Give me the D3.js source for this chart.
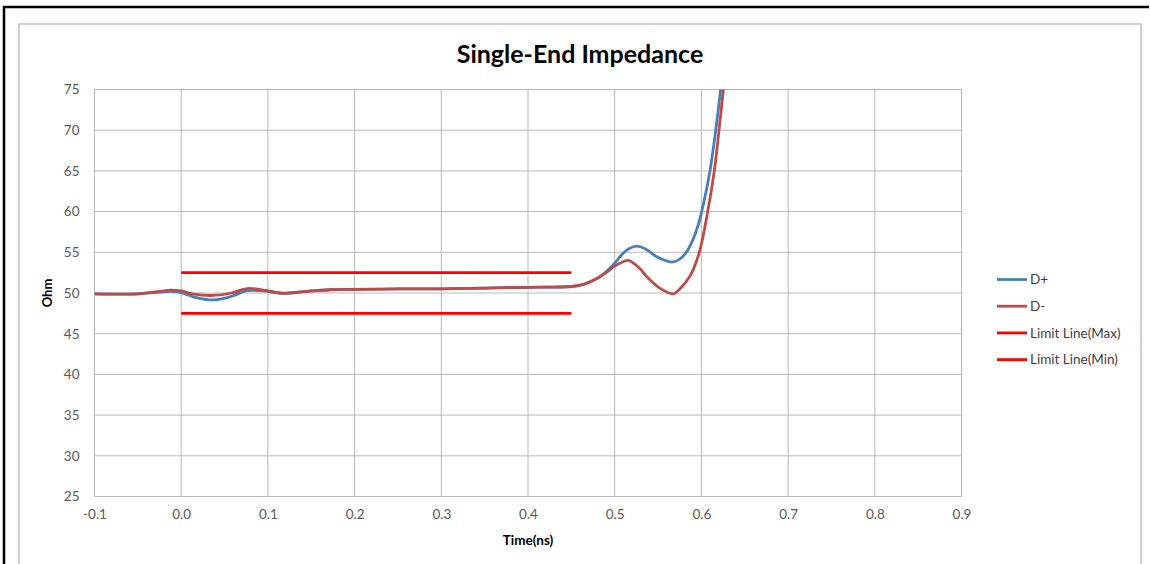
<!DOCTYPE html>
<html>
<head>
<meta charset="utf-8">
<script src="https://cdn.jsdelivr.net/npm/d3@7"></script>
<style>
  body { margin: 0; background: #fff; }
  text { font-family: Lato, "Open Sans", sans-serif; }
</style>
</head>
<body>
<svg id="chart" width="1150" height="564"></svg>
<script>
// time axis (ns) and impedance (Ohm)
const timeDp = [-0.1, -0.05, -0.025, -0.012, 0.0, 0.015, 0.037, 0.058, 0.076, 0.095, 0.118, 0.145, 0.172, 0.2, 0.25, 0.3, 0.35, 0.4, 0.45, 0.465, 0.48, 0.49, 0.5, 0.508, 0.5165, 0.5254, 0.535, 0.541, 0.5485, 0.5657, 0.574, 0.582, 0.59, 0.597, 0.6035, 0.6099, 0.6165, 0.6222, 0.63];
const dPlus  = [49.9, 49.9, 50.1, 50.2, 50.05, 49.5, 49.15, 49.6, 50.3, 50.25, 49.96, 50.2, 50.4, 50.45, 50.5, 50.5, 50.6, 50.7, 50.8, 51.1, 51.8, 52.6, 53.65, 54.7, 55.45, 55.75, 55.45, 55.0, 54.45, 53.8, 54.1, 54.9, 56.5, 58.6, 61.5, 65, 70, 75, 82];

const timeDm = [-0.1, -0.05, -0.025, -0.012, 0.0, 0.015, 0.037, 0.058, 0.076, 0.095, 0.118, 0.145, 0.172, 0.2, 0.25, 0.3, 0.35, 0.4, 0.45, 0.465, 0.48, 0.49, 0.5, 0.506, 0.5157, 0.529, 0.537, 0.552, 0.5676, 0.575, 0.587, 0.5976, 0.6073, 0.6149, 0.6203, 0.6253, 0.632];
const dMinus = [49.9, 49.9, 50.2, 50.35, 50.25, 49.85, 49.7, 50.0, 50.55, 50.35, 49.97, 50.2, 50.4, 50.45, 50.5, 50.5, 50.6, 50.7, 50.8, 51.1, 51.8, 52.5, 53.3, 53.65, 54.0, 53.0, 52.0, 50.6, 49.9, 50.5, 52.1, 55, 60, 65, 70, 75, 82];

const limitTime = [0.0, 0.45];
const limitMax = [52.5, 52.5];
const limitMin = [47.5, 47.5];

const xTicks = [-0.1, 0.0, 0.1, 0.2, 0.3, 0.4, 0.5, 0.6, 0.7, 0.8, 0.9];
const yTicks = [25, 30, 35, 40, 45, 50, 55, 60, 65, 70, 75];

const seriesNames = ["D+", "D-", "Limit Line(Max)", "Limit Line(Min)"];
const seriesColors = ["#4a7ebb", "#be4b48", "#ff0000", "#ff0000"];

const svg = d3.select("#chart");
const margin = {top: 89.5, left: 94.5, right: 961.5, bottom: 496.5};

// frame
svg.append("path")
    .attr("d", "M4,564 L4,7 L1149,7")
    .attr("fill", "none").attr("stroke", "#000").attr("stroke-width", 2.5);
svg.append("rect")
    .attr("x", 19).attr("y", 24).attr("width", 1122).attr("height", 600)
    .attr("fill", "#fff").attr("stroke", "#c0c0c0").attr("stroke-width", 1.5);

let x = d3.scaleLinear().domain([-0.1, 0.9]).range([margin.left, margin.right]);
let y = d3.scaleLinear().domain([25, 75]).range([margin.bottom, margin.top]);

// grid
svg.append("g").selectAll("line").data(yTicks).enter().append("line")
    .attr("x1", margin.left).attr("x2", margin.right)
    .attr("y1", d => y(d)).attr("y2", d => y(d))
    .attr("stroke", "#b8b8b8").attr("stroke-width", 1);
svg.append("g").selectAll("line").data(xTicks).enter().append("line")
    .attr("y1", margin.top).attr("y2", margin.bottom)
    .attr("x1", d => x(d)).attr("x2", d => x(d))
    .attr("stroke", "#b8b8b8").attr("stroke-width", 1);

// axes labels
let yAxis = g => g
    .attr("transform", `translate(${margin.left},0)`)
    .call(d3.axisLeft(y).tickValues(yTicks).tickSize(0).tickPadding(15).tickFormat(d3.format("d")))
    .call(g => g.select(".domain").remove())
    .call(g => g.selectAll("text").attr("fill", "#595959").style("font-size", "13.5px"));
let xAxis = g => g
    .attr("transform", `translate(0,${margin.bottom})`)
    .call(d3.axisBottom(x).tickValues(xTicks).tickSize(0).tickPadding(13)
        .tickFormat(d => d.toFixed(1)))
    .call(g => g.select(".domain").remove())
    .call(g => g.selectAll("text").attr("fill", "#595959").style("font-size", "13.5px"));
svg.append("g").call(yAxis);
svg.append("g").call(xAxis);

svg.append("text")
    .attr("x", 580).attr("y", 63).attr("text-anchor", "middle")
    .style("font-size", "25px").style("font-weight", "bold").attr("fill", "#000")
    .text("Single-End Impedance");
svg.append("text")
    .attr("x", (margin.left + margin.right) / 2).attr("y", 545).attr("text-anchor", "middle")
    .style("font-size", "13.5px").style("font-weight", "bold").attr("fill", "#000")
    .text("Time(ns)");
svg.append("text")
    .attr("transform", `translate(52,${(margin.top + margin.bottom) / 2}) rotate(-90)`)
    .attr("text-anchor", "middle")
    .style("font-size", "13px").style("font-weight", "bold").attr("fill", "#000")
    .text("Ohm");

// series
svg.append("clipPath").attr("id", "plotClip").append("rect")
    .attr("x", margin.left).attr("y", margin.top)
    .attr("width", margin.right - margin.left).attr("height", margin.bottom - margin.top);

const series = [
    timeDp.map((t, i) => [t, dPlus[i]]),
    timeDm.map((t, i) => [t, dMinus[i]]),
    limitTime.map((t, i) => [t, limitMax[i]]),
    limitTime.map((t, i) => [t, limitMin[i]])
];
let line = d3.line().x(d => x(d[0])).y(d => y(d[1])).curve(d3.curveCatmullRom.alpha(0.5));

const plot = svg.append("g").attr("clip-path", "url(#plotClip)");
[2, 3, 0, 1].forEach(i => {
    plot.append("path")
        .datum(series[i])
        .attr("fill", "none")
        .attr("stroke", seriesColors[i])
        .attr("stroke-width", 2.8)
        .attr("stroke-linejoin", "round")
        .attr("d", line);
});

// legend
const legend = svg.append("g").selectAll("g").data(seriesNames).enter().append("g")
    .attr("transform", (d, i) => `translate(997,${279.5 + i * 26.7})`);
legend.append("line")
    .attr("x1", 0).attr("x2", 30)
    .attr("stroke", (d, i) => seriesColors[i]).attr("stroke-width", 2.8);
legend.append("text")
    .attr("x", 33).attr("dy", "0.35em")
    .style("font-size", "13.5px").attr("fill", "#404040")
    .text(d => d);
</script>
</body>
</html>
